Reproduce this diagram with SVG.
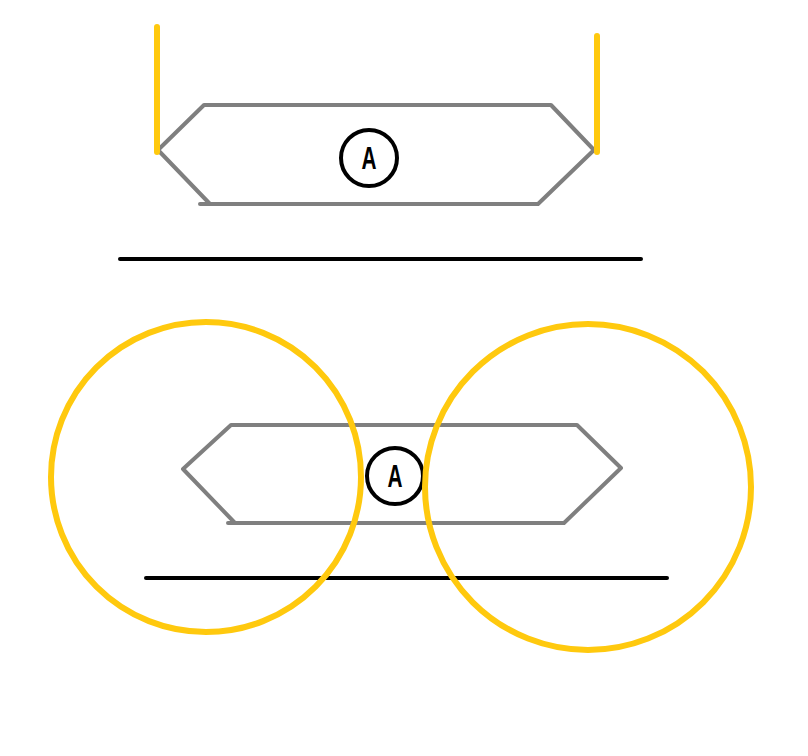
<svg xmlns="http://www.w3.org/2000/svg" width="808" height="756" viewBox="0 0 808 756">
<style>
.hex{fill:none;stroke:#7f7f7f;stroke-width:4;stroke-linejoin:round;stroke-linecap:round}
.yel{fill:none;stroke:#ffc90e;stroke-width:6;stroke-linecap:round}
.blk{fill:none;stroke:#000;stroke-width:4;stroke-linecap:round}
.lbl{fill:#fff;stroke:#000;stroke-width:4}
.t{font-family:"Liberation Sans",Arial,sans-serif;font-size:32px;font-weight:bold;fill:#000;text-anchor:middle}
</style>
<rect width="808" height="756" fill="#fff"/>
<g id="top-node">
<polyline class="hex" points="200,204 210,204 538,204 594,150 551,105 204,105 158,150 210,204"/>
<circle class="lbl" cx="369" cy="158" r="28"/>
<text class="t" x="369" y="169" textLength="15" lengthAdjust="spacingAndGlyphs">A</text>
</g>
<g id="connectors">
<line class="yel" x1="157" y1="27" x2="157" y2="152"/>
<line class="yel" x1="597" y1="36" x2="597" y2="152"/>
<line class="blk" x1="120" y1="259" x2="641" y2="259"/>
<line class="blk" x1="146" y1="578" x2="667" y2="578"/>
</g>
<g id="bottom-node">
<polyline class="hex" points="228,523 235,523 564,523 621,468 577,425 231,425 183,469 235,523"/>
<circle class="lbl" cx="395" cy="476" r="28"/>
<text class="t" x="395" y="487" textLength="15" lengthAdjust="spacingAndGlyphs">A</text>
</g>
<g id="circles">
<circle class="yel" cx="206" cy="477" r="155"/>
<circle class="yel" cx="588" cy="487" r="163"/>
</g>
</svg>
